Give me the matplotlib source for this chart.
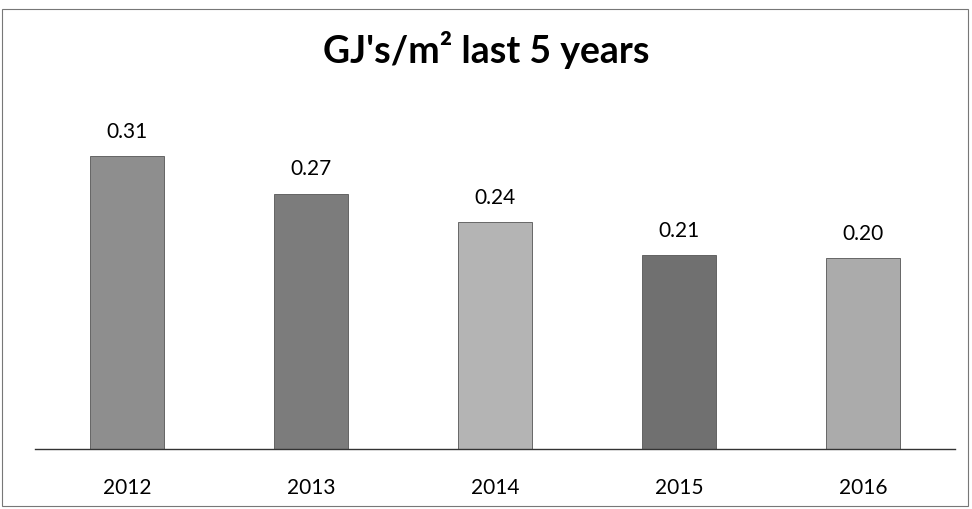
import matplotlib.pyplot as plt
from matplotlib.patches import Rectangle

years = ['2012', '2013', '2014', '2015', '2016']
values = [0.31, 0.27, 0.24, 0.205, 0.202]
labels = ['0.31', '0.27', '0.24', '0.21', '0.20']
bar_colors = ['#8e8e8e', '#7c7c7c', '#b4b4b4', '#707070', '#ababab']

fig = plt.figure(figsize=(9.72, 5.1), dpi=100)
ax = fig.add_axes([35/972, 60/510, 920/972, 331/510])

x = range(len(years))
bars = ax.bar(x, values, width=0.4, color=bar_colors, edgecolor='#555555', linewidth=0.6)
for b, v, lab in zip(bars, values, labels):
    ax.annotate(lab, (b.get_x() + b.get_width()/2, v), xytext=(0, 11),
                textcoords='offset points', ha='center', va='bottom',
                fontsize=15, family='Lato')

ax.set_xlim(-0.5, 4.5)
ax.set_ylim(0, 0.35)
ax.set_xticks(list(x))
ax.set_xticklabels(years, fontsize=15, family='Lato')
ax.tick_params(axis='x', length=0, pad=20)
ax.set_yticks([])
for s in ['top', 'right', 'left']:
    ax.spines[s].set_visible(False)
ax.spines['bottom'].set_color('#333333')
ax.spines['bottom'].set_linewidth(1.0)

fig.text(0.5, 1 - 50/510, "GJ's/m² last 5 years", ha='center', va='center',
         fontsize=27, fontweight='bold', family='Lato')

fig.patches.append(Rectangle((2/972, 3/510), 966/972, 497/510, transform=fig.transFigure,
                             fill=False, edgecolor='#777777', linewidth=0.8))

fig.savefig('out.png', dpi=100)
